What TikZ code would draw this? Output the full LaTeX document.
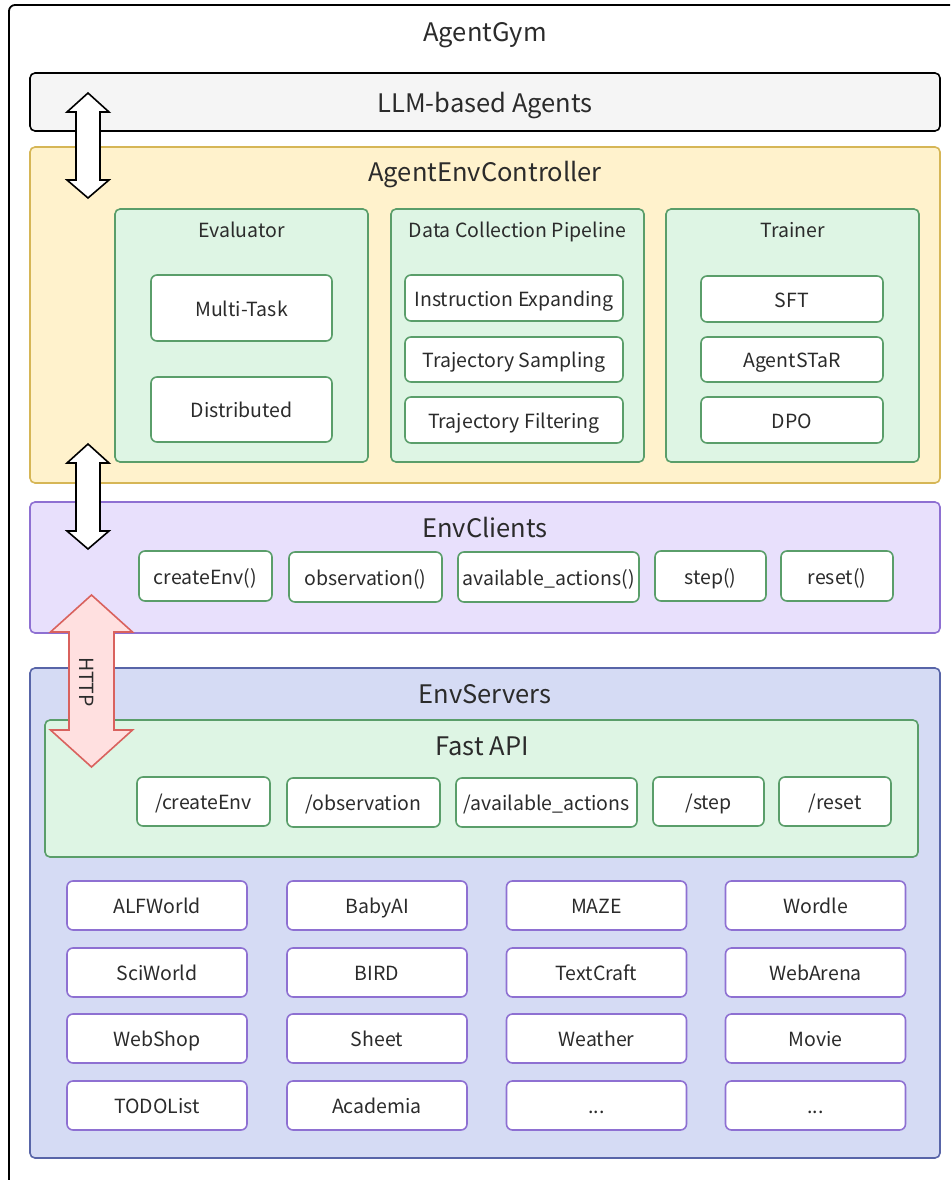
\documentclass[tikz,border=0pt]{standalone}
\usepackage{fontspec}
\setmainfont{Noto Sans CJK SC}
\definecolor{txt}{HTML}{2B2B2B}
\definecolor{llmfill}{HTML}{F5F5F5}
\definecolor{ctrlfill}{HTML}{FFF2CC}
\definecolor{ctrlline}{HTML}{D6B656}
\definecolor{grpfill}{HTML}{DEF5E4}
\definecolor{grpline}{HTML}{5A9E6A}
\definecolor{clifill}{HTML}{E8E0FC}
\definecolor{cliline}{HTML}{8E70D2}
\definecolor{srvfill}{HTML}{D5DBF4}
\definecolor{srvline}{HTML}{5865A8}
\definecolor{envline}{HTML}{8E70D2}
\definecolor{httpfill}{HTML}{FFE0E0}
\definecolor{httpline}{HTML}{D9625E}
\tikzset{
  % every label uses a fixed line box so that text sits at the same height
  bigtitle/.style={text=txt, inner sep=0pt, text height=21.7pt, text depth=0pt,
    font=\fontsize{25.5}{30}\selectfont},
  subtitle/.style={text=txt, inner sep=0pt, text height=16.6pt, text depth=0pt,
    font=\fontsize{19.5}{23}\selectfont},
  layer/.style={draw, line width=1.6pt, rounded corners=5pt},
  group/.style={draw=grpline, fill=grpfill, line width=1.6pt, rounded corners=5pt},
  item/.style={subtitle, draw=grpline, fill=white, line width=1.6pt, rounded corners=6pt},
  envbox/.style={item, draw=envline, minimum width=180pt, minimum height=49pt},
  bigarrow/.style={draw=black, fill=white, line width=1.6pt, line join=miter},
  httparrow/.style={draw=httpline, fill=httpfill, line width=1.6pt, line join=miter},
}
\begin{document}
\begin{tikzpicture}[x=1pt,y=-1pt]
\clip (0,0) rectangle (950,1180);
\fill[white] (0,0) rectangle (950,1180);

% outer frame
\draw[line width=1.8pt, rounded corners=6pt] (9,5) rectangle (1010,1240);
\node[bigtitle] (gym) at (485,31) {AgentGym};

% LLM-based agents
\node[layer, fill=llmfill, minimum width=910pt, minimum height=58pt, bigtitle,
  draw=black] (llm) at (485,102) {LLM-based Agents};

% AgentEnvController
\node[layer, draw=ctrlline, fill=ctrlfill, minimum width=910pt, minimum height=336pt]
  (ctrl) at (485,315) {};
\node[bigtitle] (ctrlt) at (485,171) {AgentEnvController};

\node[group, minimum width=253pt, minimum height=253pt] (eval) at (241.5,335.5) {};
\node[subtitle] (evalt) at (241.5,229) {Evaluator};
\node[item, minimum width=181pt, minimum height=66pt] (mt) at (241.5,308) {Multi-Task};
\node[item, minimum width=181pt, minimum height=65pt] (dist) at (241.5,409.5) {Distributed};

\node[group, minimum width=253pt, minimum height=253pt] (dcp) at (517.5,335.5) {};
\node[subtitle] (dcpt) at (517.5,229) {Data Collection Pipeline};
\node[item, minimum width=218pt, minimum height=46pt] (ie) at (514,298) {Instruction Expanding};
\node[item, minimum width=218pt, minimum height=45pt] (ts) at (514,359.5) {Trajectory Sampling};
\node[item, minimum width=218pt, minimum height=46pt] (tf) at (514,420) {Trajectory Filtering};

\node[group, minimum width=253pt, minimum height=253pt] (trn) at (792.5,335.5) {};
\node[subtitle] (trnt) at (792.5,229) {Trainer};
\node[item, minimum width=182pt, minimum height=46pt] (sft) at (792,299) {SFT};
\node[item, minimum width=182pt, minimum height=45pt] (star) at (792,359.5) {AgentSTaR};
\node[item, minimum width=182pt, minimum height=46pt] (dpo) at (792,420) {DPO};

% EnvClients
\node[layer, draw=cliline, fill=clifill, minimum width=910pt, minimum height=131pt]
  (cli) at (485,567.5) {};
\node[bigtitle] (clit) at (485,527) {EnvClients};
\node[item, minimum width=133pt, minimum height=50pt] (c1) at (205.5,576) {createEnv()};
\node[item, minimum width=153pt, minimum height=50pt] (c2) at (365.5,577) {observation()};
\node[item, minimum width=181pt, minimum height=50pt] (c3) at (548.5,577) {available\_actions()};
\node[item, minimum width=111pt, minimum height=50pt] (c4) at (710.5,576) {step()};
\node[item, minimum width=112pt, minimum height=50pt] (c5) at (837,576) {reset()};

% EnvServers
\node[layer, draw=srvline, fill=srvfill, minimum width=910pt, minimum height=490pt]
  (srv) at (485,913) {};
\node[bigtitle] (srvt) at (485,693) {EnvServers};

\node[group, minimum width=873pt, minimum height=137pt] (api) at (481.5,788.5) {};
\node[bigtitle] (apit) at (482,745) {Fast API};
\node[item, minimum width=133pt, minimum height=49pt] (s1) at (203.5,801.5) {/createEnv};
\node[item, minimum width=153pt, minimum height=49pt] (s2) at (363.5,802.5) {/observation};
\node[item, minimum width=181pt, minimum height=49pt] (s3) at (546.5,802.5) {/available\_actions};
\node[item, minimum width=111pt, minimum height=49pt] (s4) at (708.5,801.5) {/step};
\node[item, minimum width=112pt, minimum height=49pt] (s5) at (835,801.5) {/reset};

% environment grid
\node[envbox] (e11) at (157,905.5) {ALFWorld};
\node[envbox] (e12) at (377,905.5) {BabyAI};
\node[envbox] (e13) at (596.5,905.5) {MAZE};
\node[envbox] (e14) at (815.5,905.5) {Wordle};
\node[envbox] (e21) at (157,972.5) {SciWorld};
\node[envbox] (e22) at (377,972.5) {BIRD};
\node[envbox] (e23) at (596.5,972.5) {TextCraft};
\node[envbox] (e24) at (815.5,972.5) {WebArena};
\node[envbox] (e31) at (157,1038.5) {WebShop};
\node[envbox] (e32) at (377,1038.5) {Sheet};
\node[envbox] (e33) at (596.5,1038.5) {Weather};
\node[envbox] (e34) at (815.5,1038.5) {Movie};
\node[envbox] (e41) at (157,1105.5) {TODOList};
\node[envbox] (e42) at (377,1105.5) {Academia};
\node[envbox] (e43) at (596.5,1105.5) {...};
\node[envbox] (e44) at (815.5,1105.5) {...};

% two-way arrows between the layers
\draw[bigarrow] (88,93) -- (109,112) -- (100,112) -- (100,180) -- (109,180) -- (88,198)
  -- (67,180) -- (76,180) -- (76,112) -- (67,112) -- cycle;
\draw[bigarrow] (88,444) -- (109,463) -- (100,463) -- (100,531) -- (109,531) -- (88,549)
  -- (67,531) -- (76,531) -- (76,463) -- (67,463) -- cycle;
\draw[httparrow] (91.5,595) -- (132.5,632) -- (114,632) -- (114,730) -- (132.5,730) -- (91.5,767)
  -- (50.5,730) -- (69,730) -- (69,632) -- (50.5,632) -- cycle;
\node[subtitle, rotate=-90] (http) at (88,682) {HTTP};
\end{tikzpicture}
\end{document}
